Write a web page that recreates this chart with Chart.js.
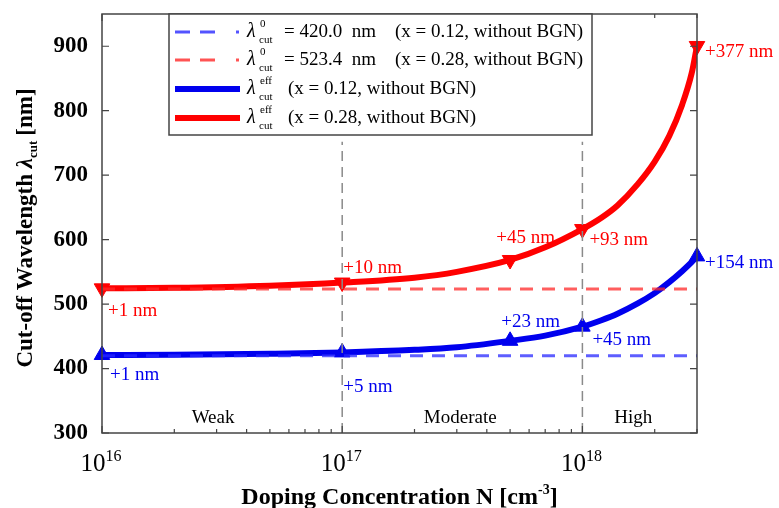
<!DOCTYPE html>
<html>
<head>
<meta charset="utf-8">
<script src="https://cdn.jsdelivr.net/npm/chart.js@4"></script>
<style>
  html, body { margin: 0; padding: 0; background: #fff; }
  #wrap { width: 779px; height: 508px; }
</style>
</head>
<body>
<div id="wrap"><canvas id="cutoffChart" width="779" height="508"></canvas></div>
<script>
// doping concentration N [cm^-3]
const dopingN = [1e16, 2e16, 5e16, 1e17, 2e17, 3e17, 5e17, 7e17, 1e18, 1.2e18, 1.4e18, 1.7e18, 2e18, 2.3e18, 2.6e18, 2.85e18, 3e18];
const effX028 = [524.4, 525.2, 528.5, 533.4, 541, 550, 568.4, 588, 616.4, 634, 653, 686, 721, 761, 809, 858, 900.4];
const effX012 = [421, 421.5, 423, 425, 429, 433, 443, 451, 465, 475, 485, 501, 517, 534, 551, 565, 574];

// marked points and their shift labels
const markerN = [1e16, 1e17, 5e17, 1e18, 3e18];
const marksX028 = [524.4, 533.4, 568.4, 616.4, 900.4];
const marksX012 = [421, 425, 443, 465, 574];
const shiftX028 = ['+1 nm', '+10 nm', '+45 nm', '+93 nm', '+377 nm'];
const shiftX012 = ['+1 nm', '+5 nm', '+23 nm', '+45 nm', '+154 nm'];

// no-BGN reference wavelengths
const lambda0X012 = 420.0;
const lambda0X028 = 523.4;

const regionBounds = [1e17, 1e18];
const regionNames = ['Weak', 'Moderate', 'High'];
const regionCenters = [2.9e16, 3.1e17, 1.63e18];

const yTicks = [300, 400, 500, 600, 700, 800, 900];
const xDecades = [16, 17, 18];

const RED = '#ff0000';
const BLUE = '#0000ee';
const SERIF = "'Liberation Serif', 'Times New Roman', serif";

const toXY = (xs, ys) => xs.map((x, i) => ({ x: x, y: ys[i] }));
const flat = (v) => [{ x: dopingN[0], y: v }, { x: dopingN[dopingN.length - 1], y: v }];

// draw text made of pieces (sup/sub/italic)
function drawRich(ctx, parts, x, y, align) {
  let total = 0;
  parts.forEach(p => { ctx.font = p.font; total += ctx.measureText(p.t).width + (p.gap || 0); });
  let cx = align === 'center' ? x - total / 2 : (align === 'right' ? x - total : x);
  ctx.textAlign = 'left';
  parts.forEach(p => {
    ctx.font = p.font;
    ctx.fillText(p.t, cx, y + (p.dy || 0));
    cx += ctx.measureText(p.t).width + (p.gap || 0);
  });
}

function lambdaSymbol(ctx, x, y, sup) {
  ctx.textAlign = 'left';
  ctx.textBaseline = 'middle';
  ctx.font = 'italic 20px ' + SERIF;
  ctx.fillText('\u03bb', x, y);
  ctx.font = '11px ' + SERIF;
  ctx.fillText(sup, x + 13, y - 8);
  ctx.fillText('cut', x + 12, y + 8);
}

const decorPlugin = {
  id: 'decor',
  afterDraw(chart) {
    const ctx = chart.ctx;
    const a = chart.chartArea;
    const xs = chart.scales.x, ys = chart.scales.y;
    ctx.save();

    // frame
    ctx.strokeStyle = '#444';
    ctx.lineWidth = 1.5;
    ctx.strokeRect(a.left, a.top, a.right - a.left, a.bottom - a.top);

    // inward ticks
    ctx.lineWidth = 1.2;
    ctx.beginPath();
    yTicks.forEach(v => {
      const py = ys.getPixelForValue(v);
      ctx.moveTo(a.left, py); ctx.lineTo(a.left + 7, py);
      ctx.moveTo(a.right, py); ctx.lineTo(a.right - 7, py);
    });
    xDecades.forEach(d => {
      for (let m = 1; m <= 9; m++) {
        const v = m * Math.pow(10, d);
        if (v > xs.max) break;
        const px = xs.getPixelForValue(v);
        const len = m === 1 ? 7 : 4;
        ctx.moveTo(px, a.bottom); ctx.lineTo(px, a.bottom - len);
        ctx.moveTo(px, a.top); ctx.lineTo(px, a.top + len);
      }
    });
    ctx.stroke();

    // x tick labels 10^n
    ctx.fillStyle = '#000';
    ctx.textBaseline = 'alphabetic';
    xDecades.forEach(d => {
      const px = xs.getPixelForValue(Math.pow(10, d));
      drawRich(ctx, [
        { t: '10', font: '25px ' + SERIF },
        { t: String(d), font: '16px ' + SERIF, dy: -10 }
      ], px - 1, 471, 'center');
    });

    // axis titles
    drawRich(ctx, [
      { t: 'Doping Concentration N [cm', font: 'bold 24px ' + SERIF },
      { t: '-3', font: 'bold 14px ' + SERIF, dy: -10 },
      { t: ']', font: 'bold 24px ' + SERIF }
    ], (a.left + a.right) / 2, 504, 'center');

    ctx.save();
    ctx.translate(32, 228);
    ctx.rotate(-Math.PI / 2);
    drawRich(ctx, [
      { t: 'Cut-off Wavelength ', font: 'bold 23px ' + SERIF },
      { t: '\u03bb', font: 'bold italic 23px ' + SERIF },
      { t: 'cut', font: 'bold 13px ' + SERIF, dy: 5, gap: 5 },
      { t: '[nm]', font: 'bold 23px ' + SERIF }
    ], 0, 0, 'center');
    ctx.restore();

    // region names
    ctx.fillStyle = '#000';
    ctx.font = '19px ' + SERIF;
    ctx.textAlign = 'center';
    ctx.textBaseline = 'middle';
    regionNames.forEach((name, i) => {
      ctx.fillText(name, xs.getPixelForValue(regionCenters[i]), 418);
    });

    // shift labels, offsets from each marked point
    const offs028 = [[6, 23, 'left'], [1, -15, 'left'], [45, -22, 'right'], [7, 11, 'left'], [8, 6, 'left']];
    const offs012 = [[8, 20, 'left'], [1, 35, 'left'], [50, -19, 'right'], [10, 13, 'left'], [8, 7, 'left']];
    ctx.font = '19px ' + SERIF;
    markerN.forEach((n, i) => {
      const px = xs.getPixelForValue(n);
      ctx.fillStyle = RED;
      ctx.textAlign = offs028[i][2];
      ctx.fillText(shiftX028[i], px + offs028[i][0], ys.getPixelForValue(marksX028[i]) + offs028[i][1]);
      ctx.fillStyle = BLUE;
      ctx.textAlign = offs012[i][2];
      ctx.fillText(shiftX012[i], px + offs012[i][0], ys.getPixelForValue(marksX012[i]) + offs012[i][1]);
    });

    // legend box
    const lx = 169, ly = 14, lw = 423, lh = 121;
    ctx.fillStyle = '#fff';
    ctx.fillRect(lx, ly, lw, lh);
    ctx.strokeStyle = '#444';
    ctx.lineWidth = 1.5;
    ctx.strokeRect(lx, ly, lw, lh);

    const rows = [
      { color: 'rgba(40,40,255,0.8)', dash: true, sup: '0', mid: '= ' + lambda0X012.toFixed(1) + '  nm', note: '(x = 0.12, without BGN)' },
      { color: 'rgba(255,40,40,0.8)', dash: true, sup: '0', mid: '= ' + lambda0X028.toFixed(1) + '  nm', note: '(x = 0.28, without BGN)' },
      { color: BLUE, dash: false, sup: 'eff', note: '(x = 0.12, without BGN)' },
      { color: RED, dash: false, sup: 'eff', note: '(x = 0.28, without BGN)' }
    ];
    const rowY = [32, 60, 89, 118];
    rows.forEach((r, i) => {
      const y = rowY[i];
      ctx.strokeStyle = r.color;
      ctx.lineWidth = r.dash ? 3 : 6;
      ctx.setLineDash(r.dash ? [15, 10, 15, 21, 3, 100] : []);
      ctx.beginPath();
      ctx.moveTo(175, y); ctx.lineTo(240, y);
      ctx.stroke();
      ctx.setLineDash([]);
      ctx.fillStyle = '#000';
      lambdaSymbol(ctx, 247, y, r.sup);
      ctx.font = '19px ' + SERIF;
      ctx.textAlign = 'left';
      ctx.textBaseline = 'middle';
      if (r.dash) {
        ctx.fillText(r.mid, 284, y);
        ctx.textAlign = 'right';
        ctx.fillText(r.note, 583, y);
      } else {
        ctx.fillText(r.note, 288, y);
      }
    });

    ctx.restore();
  }
};

new Chart(document.getElementById('cutoffChart'), {
  type: 'scatter',
  data: {
    datasets: [
      {
        label: 'boundary 1e17',
        data: [{ x: regionBounds[0], y: 300 }, { x: regionBounds[0], y: 752 }],
        showLine: true, borderColor: '#8a8a8a', borderWidth: 1.5, borderDash: [10, 6], pointRadius: 0
      },
      {
        label: 'boundary 1e18',
        data: [{ x: regionBounds[1], y: 300 }, { x: regionBounds[1], y: 752 }],
        showLine: true, borderColor: '#8a8a8a', borderWidth: 1.5, borderDash: [10, 6], pointRadius: 0
      },
      {
        label: 'lambda0 x=0.12',
        data: flat(lambda0X012),
        showLine: true, borderColor: 'rgba(40,40,255,0.75)', borderWidth: 3, borderDash: [13, 9], pointRadius: 0
      },
      {
        label: 'lambda0 x=0.28',
        data: flat(lambda0X028),
        showLine: true, borderColor: 'rgba(255,40,40,0.75)', borderWidth: 3, borderDash: [13, 9], pointRadius: 0
      },
      {
        label: 'lambda eff x=0.12',
        data: toXY(dopingN, effX012),
        showLine: true, borderColor: BLUE, borderWidth: 6, pointRadius: 0,
        cubicInterpolationMode: 'monotone'
      },
      {
        label: 'lambda eff x=0.28',
        data: toXY(dopingN, effX028),
        showLine: true, borderColor: RED, borderWidth: 6, pointRadius: 0,
        cubicInterpolationMode: 'monotone'
      },
      {
        label: 'marks x=0.12',
        data: toXY(markerN, marksX012),
        clip: false,
        pointStyle: 'triangle', pointRadius: 9, backgroundColor: BLUE, borderColor: BLUE, borderWidth: 1
      },
      {
        label: 'marks x=0.28',
        data: toXY(markerN, marksX028),
        clip: false,
        pointStyle: 'triangle', rotation: 180, pointRadius: 9, backgroundColor: RED, borderColor: RED, borderWidth: 1
      }
    ]
  },
  options: {
    responsive: false,
    animation: false,
    layout: { padding: { top: 14, right: 82, left: 0, bottom: 0 } },
    plugins: { legend: { display: false }, tooltip: { enabled: false } },
    scales: {
      x: {
        type: 'logarithmic',
        min: 1e16,
        max: 3e18,
        grid: { display: false, drawTicks: false },
        border: { display: false },
        ticks: { display: false },
        afterFit: (s) => { s.height = 75; s.paddingLeft = 0; s.paddingRight = 0; }
      },
      y: {
        min: 300,
        max: 950,
        grid: { display: false, drawTicks: false },
        border: { display: false },
        ticks: {
          stepSize: 100,
          padding: 14,
          color: '#000',
          font: { family: SERIF, size: 23, weight: 'bold' },
          callback: (v) => (v % 100 === 0 ? v : '')
        },
        afterFit: (s) => { s.width = 102; s.paddingTop = 0; s.paddingBottom = 0; }
      }
    }
  },
  plugins: [decorPlugin]
});
</script>
</body>
</html>
